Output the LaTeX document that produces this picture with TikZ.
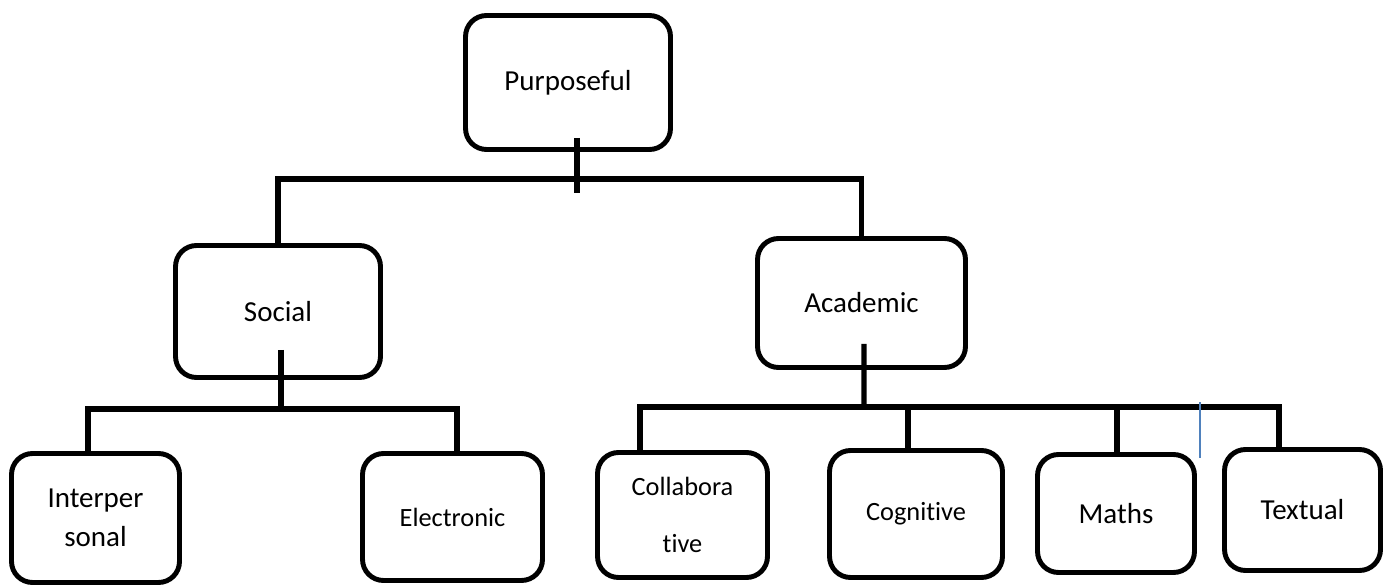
\documentclass[tikz,border=0pt]{standalone}
\usepackage{fontspec}
\setmainfont{Carlito}[Ligatures=NoCommon]
\usetikzlibrary{calc}
\definecolor{GuideBlue}{HTML}{4F81BD}
\tikzset{
  catbox/.style={rectangle, rounded corners=0.42cm, draw=black, line width=2.8pt, fill=white, align=center, inner sep=2pt, font=\fontsize{16.5}{22}\selectfont},
  subbox/.style={catbox, font=\fontsize{15}{20}\selectfont},
  link/.style={line width=2.9pt, black},
  guide/.style={line width=0.85pt, GuideBlue}
}
\begin{document}
\begin{tikzpicture}[x=0.02cm, y=-0.02cm]
  \useasboundingbox (0,0) rectangle (1392,587);
  % levels
  \node[catbox, minimum width=4.1cm, minimum height=2.68cm] (purpose) at (568,82.5) {Purposeful};
  \node[catbox, minimum width=4.1cm, minimum height=2.64cm] (social) at (278,311.5) {Social};
  \node[catbox, minimum width=4.16cm, minimum height=2.58cm] (academic) at (861.5,303) {Academic};

  \node[catbox, minimum width=3.36cm, minimum height=2.58cm] (inter) at (95.5,518) {Interper\\sonal};
  \node[subbox, minimum width=3.6cm, minimum height=2.54cm] (elec) at (452.5,517) {Electronic};
  \node[subbox, minimum width=3.4cm, minimum height=2.5cm, font=\fontsize{15}{32}\selectfont] (collab) at (682.5,515) {Collabora\\tive};
  \node[subbox, minimum width=3.46cm, minimum height=2.54cm] (cog) at (916,514) {Cognitive};
  \node[catbox, minimum width=3.14cm, minimum height=2.36cm] (maths) at (1116,513.5) {Maths};
  \node[catbox, minimum width=3.12cm, minimum height=2.42cm] (text) at (1302.5,510) {Textual};

  % buses
  \coordinate (topbus) at (577,179);
  \coordinate (socbus) at (281,409);
  \coordinate (acbus) at (864,407);

  \draw[link] ($(purpose.south)+(9,-14)$) -- ($(topbus)+(0,14)$);
  \draw[link] (social.north) -- (social.north |- topbus) -- (academic.north |- topbus) -- (academic.north);

  \coordinate (interIn) at ($(inter.north)+(-7.5,0)$);
  \coordinate (elecIn) at ($(elec.north)+(4.5,0)$);
  \draw[link] ($(social.south)+(3,-30)$) -- (socbus);
  \draw[link] (interIn) -- (interIn |- socbus) -- (elecIn |- socbus) -- (elecIn);

  \coordinate (collabIn) at ($(collab.north)+(-42.5,0)$);
  \coordinate (cogIn) at ($(cog.north)+(-8,0)$);
  \coordinate (mathsIn) at ($(maths.north)+(1,0)$);
  \coordinate (textIn) at ($(text.north)+(-23.5,0)$);
  \draw[link] ($(academic.south)+(2.5,-26)$) -- (acbus);
  \draw[link] (collabIn) -- (collabIn |- acbus) -- (textIn |- acbus) -- (textIn);
  \draw[link] (cogIn) -- (cogIn |- acbus);
  \draw[link] (mathsIn) -- (mathsIn |- acbus);

  \coordinate (mark) at ($(maths.north |- acbus)+(84,-5)$);
  \draw[guide] (mark) -- ++(0,56);
\end{tikzpicture}
\end{document}
